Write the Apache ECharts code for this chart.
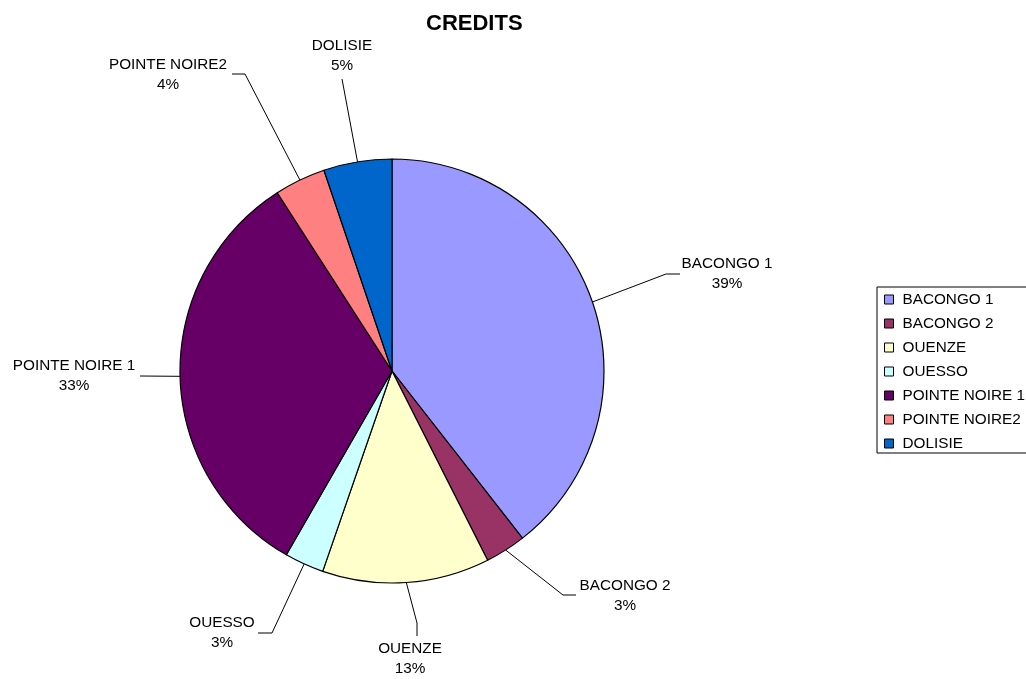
<!DOCTYPE html>
<html><head><meta charset="utf-8">
<script src="https://cdn.jsdelivr.net/npm/echarts@6/dist/echarts.min.js"></script>
<style>html,body{margin:0;padding:0;background:#fff}#c{width:1026px;height:679px}</style>
</head><body><div id="c"></div>
<script>
const categories = ['BACONGO 1','BACONGO 2','OUENZE','OUESSO','POINTE NOIRE 1','POINTE NOIRE2','DOLISIE'];
const values = [39.45, 3.1, 12.75, 3.0, 32.6, 3.9, 5.2];
const colors = ['#9999FF','#993366','#FFFFCC','#CCFFFF','#660066','#FF8080','#0066CC'];

// label placement (layout only): label block centre, leader bend point, leader end point
const labelCenter = [[727,274],[625,596],[410,659],[222,633],[74,376],[168,75],[342,56]];
const leaderBend  = [[666,274],[563,595],[417,623],[272,633],[140,376],[245,74],[342,79]];
const leaderEnd   = [[680,274],[576,595],[417,636],[258,633],[140,376],[232,74],[342,79]];

const chart = echarts.init(document.getElementById('c'));
const FONT = 'Arial, "Liberation Sans", sans-serif';
const FS = 15.3;
chart.setOption({
  animation: false,
  title: { text: 'CREDITS', left: 421, top: 8, textStyle: { fontFamily: FONT, fontSize: 22, fontWeight: 'bold', color: '#000' } },
  legend: {
    orient: 'vertical', left: 877, top: 287,
    data: categories,
    icon: 'rect', itemWidth: 9, itemHeight: 9, itemGap: 9,
    borderColor: '#000', borderWidth: 1, padding: [5, 10, 2, 7],
    itemStyle: { borderColor: '#000', borderWidth: 1 },
    textStyle: { fontFamily: FONT, fontSize: FS, lineHeight: 15, color: '#000', padding: [0,0,0,4] }
  },
  series: [{
    type: 'pie',
    center: [392, 371], radius: 212,
    startAngle: 90, clockwise: true,
    data: categories.map((n, i) => ({ name: n, value: values[i], itemStyle: { color: colors[i] } })),
    itemStyle: { borderColor: '#000', borderWidth: 1.2 },
    label: {
      show: true, position: 'outside',
      formatter: p => '{c|' + p.name + '}\n{c|' + Math.round(p.percent) + '%}',
      rich: { c: { align: 'center', fontFamily: FONT, fontSize: FS, color: '#000', lineHeight: 20 } },
      fontFamily: FONT, fontSize: FS, color: '#000'
    },
    labelLine: { show: true, length: 20, length2: 20, lineStyle: { color: '#000', width: 1 } },
    labelLayout: function (params) {
      const i = params.dataIndex;
      const start = params.labelLinePoints ? params.labelLinePoints[0] : leaderBend[i];
      return {
        x: labelCenter[i][0], y: labelCenter[i][1],
        align: 'center', verticalAlign: 'middle',
        labelLinePoints: [start, leaderBend[i], leaderEnd[i]]
      };
    },
    emphasis: { disabled: true }
  }]
});
</script></body></html>
